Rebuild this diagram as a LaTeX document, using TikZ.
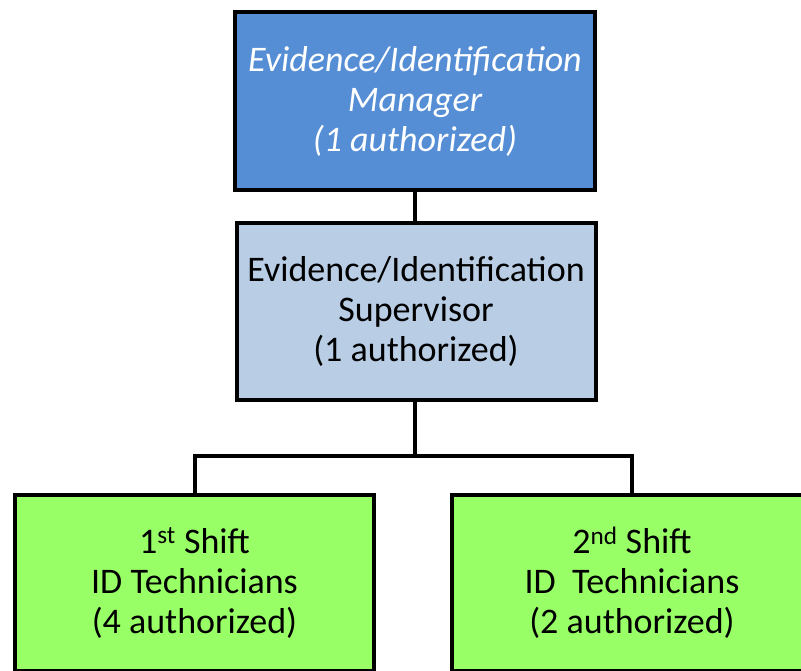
\documentclass[tikz,border=0pt]{standalone}
\usepackage{fontspec}
\setmainfont{Carlito}
\definecolor{topblue}{HTML}{558ED5}
\definecolor{midblue}{HTML}{B9CDE5}
\definecolor{shiftgreen}{HTML}{99FF66}
\begin{document}
\begin{tikzpicture}[x=1pt,y=-1pt,
  box/.style={draw=black, line width=4pt, rectangle, inner sep=0pt, align=center,
    font=\fontsize{36}{40}\selectfont},
  link/.style={draw=black, line width=4pt}]
\useasboundingbox (0,0) rectangle (801,671);
\clip (0,0) rectangle (801,671);
\node[box, fill=topblue, text=white, font=\fontsize{36}{40}\selectfont\itshape,
  minimum width=360pt, minimum height=178pt] (mgr) at (415,101)
  {Evidence/Identification\\Manager\\(1 authorized)};
\node[box, fill=midblue, minimum width=359pt, minimum height=177pt] (sup) at (416,311.5)
  {Evidence/Identification\\Supervisor\\(1 authorized)};
\node[box, fill=shiftgreen, minimum width=359pt, minimum height=176pt] (s1) at (194.5,583)
  {1\textsuperscript{st} Shift\\ID Technicians\\(4 authorized)};
\node[box, fill=shiftgreen, minimum width=360pt, minimum height=176pt] (s2) at (632,583)
  {2\textsuperscript{nd} Shift\\ID\ \ Technicians\\(2 authorized)};
\coordinate (j) at (415,456);
\draw[link] (mgr.south) -- (mgr.south |- sup.north);
\draw[link] (sup.south -| j) -- (j);
\draw[link] (s1.north) |- (j) -| (s2.north);
\end{tikzpicture}
\end{document}
